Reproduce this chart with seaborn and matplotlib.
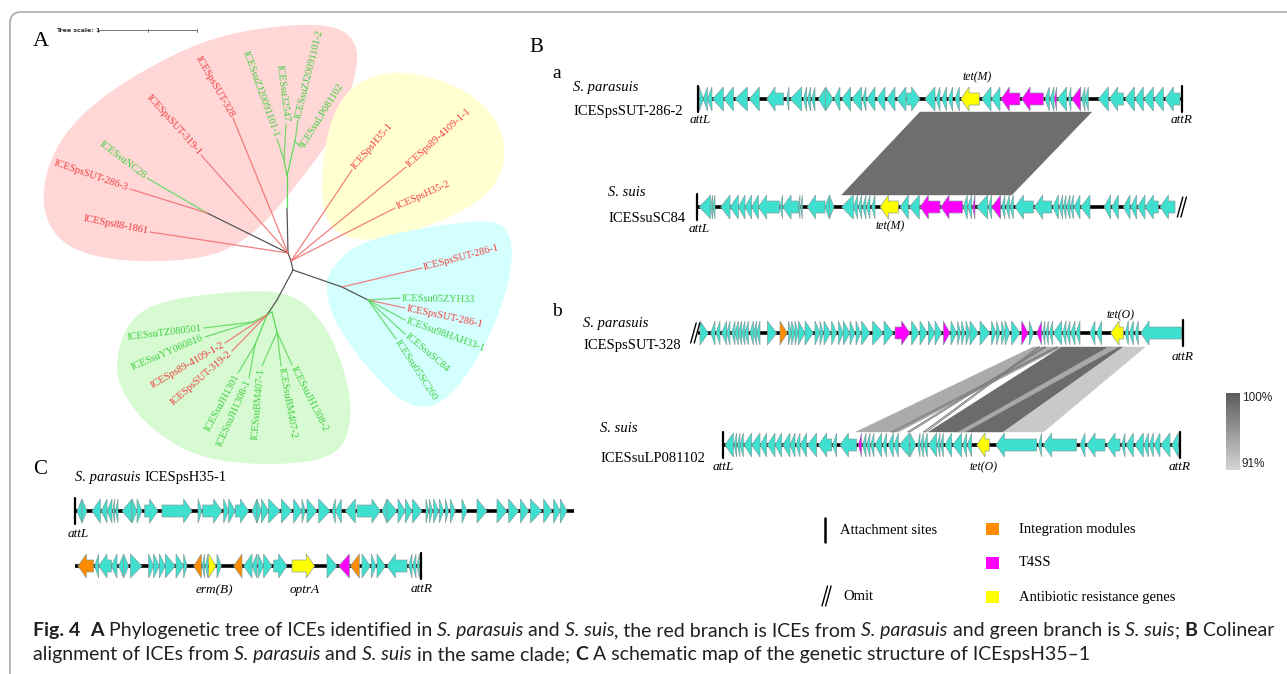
import numpy as np
import pandas as pd
import matplotlib
matplotlib.use("Agg")
import matplotlib.pyplot as plt
import seaborn as sns
from matplotlib.patches import Polygon, FancyBboxPatch, Rectangle
from matplotlib.colors import LinearSegmentedColormap
from matplotlib import font_manager

# ---------------------------------------------------------------- data
# Gene maps: (start, end, strand, kind); positions in map units (1 unit = 1/3 px of map)
GENE_COLORS = {"c": "#40E0D0", "m": "#FF00FF", "y": "#FFFF00", "o": "#FF8C00"}

ICESpsSUT_286_2 = [
    (28, 40, 1, "c"), (40, 52, -1, "c"), (52, 66, -1, "c"), (68, 100, -1, "c"), (102, 130, -1, "c"),
    (135, 172, -1, "c"), (178, 208, -1, "c"), (230, 280, -1, "c"), (290, 297, -1, "c"), (300, 335, -1, "c"),
    (340, 350, -1, "c"), (352, 362, -1, "c"), (365, 375, -1, "c"), (385, 407, -1, "c"), (407, 430, 1, "c"),
    (432, 450, -1, "c"), (455, 482, -1, "c"), (485, 515, -1, "c"), (518, 528, -1, "c"), (530, 555, -1, "c"),
    (560, 585, -1, "c"), (590, 615, -1, "c"), (620, 648, -1, "c"), (650, 690, 1, "c"), (705, 735, -1, "c"),
    (738, 750, -1, "c"), (755, 770, -1, "c"), (775, 788, -1, "c"), (795, 808, -1, "c"), (812, 868, -1, "y"),
    (875, 903, -1, "c"), (905, 930, -1, "c"), (933, 990, -1, "m"), (995, 1060, -1, "m"), (1065, 1078, -1, "c"),
    (1080, 1092, -1, "c"), (1093, 1100, -1, "m"), (1102, 1130, -1, "c"), (1135, 1143, -1, "c"),
    (1145, 1172, -1, "m"), (1175, 1185, -1, "c"), (1185, 1195, -1, "c"), (1225, 1255, -1, "c"),
    (1258, 1300, -1, "c"), (1305, 1333, -1, "c"), (1335, 1360, -1, "c"), (1362, 1390, -1, "c"),
    (1392, 1420, -1, "c"), (1425, 1470, -1, "c")]

ICESsuSC84 = [
    (28, 62, -1, "c"), (62, 68, -1, "c"), (68, 75, -1, "c"), (92, 120, -1, "c"), (120, 145, -1, "c"),
    (145, 165, -1, "c"), (165, 185, -1, "c"), (185, 205, -1, "c"), (205, 268, -1, "c"), (270, 278, -1, "c"),
    (278, 325, -1, "c"), (325, 330, -1, "c"), (332, 337, -1, "c"), (352, 405, -1, "c"), (405, 418, -1, "c"),
    (418, 432, 1, "c"), (455, 490, -1, "c"), (490, 503, -1, "c"), (505, 515, -1, "c"), (518, 528, -1, "c"),
    (530, 540, -1, "c"), (545, 555, -1, "c"), (570, 625, -1, "y"), (630, 655, -1, "c"), (658, 688, -1, "c"),
    (690, 750, -1, "m"), (752, 818, -1, "m"), (820, 832, -1, "c"), (833, 845, -1, "c"), (848, 855, -1, "m"),
    (860, 893, -1, "c"), (895, 905, -1, "c"), (905, 932, -1, "m"), (935, 945, -1, "c"), (948, 958, -1, "c"),
    (960, 970, -1, "c"), (975, 1030, -1, "c"), (1033, 1085, -1, "c"), (1088, 1105, -1, "c"),
    (1108, 1118, -1, "c"), (1120, 1128, -1, "c"), (1130, 1140, -1, "c"), (1142, 1150, -1, "c"),
    (1152, 1170, -1, "c"), (1172, 1200, -1, "c"), (1242, 1262, -1, "c"), (1265, 1285, -1, "c"),
    (1300, 1320, -1, "c"), (1322, 1340, -1, "c"), (1342, 1365, -1, "c"), (1365, 1405, -1, "c"),
    (1410, 1455, -1, "c")]

ICESpsSUT_328 = [
    (30, 55, 1, "c"), (62, 75, -1, "c"), (78, 90, -1, "c"), (95, 110, -1, "c"), (110, 120, -1, "c"),
    (125, 135, -1, "c"), (135, 145, -1, "c"), (145, 155, -1, "c"), (155, 165, -1, "c"), (165, 175, -1, "c"),
    (180, 190, -1, "c"), (190, 200, -1, "c"), (200, 210, -1, "c"), (232, 260, 1, "c"), (270, 292, 1, "o"),
    (295, 305, 1, "c"), (305, 315, 1, "c"), (315, 325, 1, "c"), (325, 345, 1, "c"), (345, 370, 1, "c"),
    (375, 390, 1, "c"), (390, 400, 1, "c"), (402, 422, 1, "c"), (425, 440, 1, "c"), (445, 460, 1, "c"),
    (460, 480, 1, "c"), (480, 495, 1, "c"), (498, 512, 1, "c"), (515, 540, 1, "c"), (548, 580, 1, "c"),
    (582, 610, 1, "c"), (615, 660, 1, "m"), (665, 688, 1, "c"), (690, 712, 1, "c"), (715, 735, 1, "c"),
    (735, 755, 1, "c"), (760, 780, 1, "m"), (783, 800, 1, "c"), (803, 812, 1, "c"), (815, 825, 1, "c"),
    (828, 840, 1, "c"), (840, 865, 1, "c"), (870, 900, 1, "c"), (905, 918, 1, "c"), (920, 930, 1, "c"),
    (935, 945, 1, "c"), (945, 960, 1, "c"), (965, 990, 1, "c"), (995, 1015, 1, "m"), (1018, 1030, 1, "c"),
    (1040, 1055, -1, "m"), (1058, 1065, -1, "c"), (1068, 1075, -1, "c"), (1078, 1088, -1, "c"),
    (1090, 1115, -1, "c"), (1118, 1128, -1, "c"), (1130, 1140, -1, "c"), (1142, 1155, -1, "c"),
    (1158, 1170, -1, "c"), (1200, 1215, -1, "c"), (1220, 1235, -1, "c"), (1262, 1300, -1, "y"),
    (1305, 1315, -1, "c"), (1318, 1330, -1, "c"), (1335, 1345, -1, "c"), (1352, 1475, -1, "c")]

ICESsuLP081102 = [
    (105, 130, -1, "c"), (132, 140, -1, "c"), (142, 150, -1, "c"), (150, 160, -1, "c"), (162, 185, -1, "c"),
    (185, 210, -1, "c"), (210, 230, -1, "c"), (232, 255, -1, "c"), (255, 275, -1, "c"), (278, 300, -1, "c"),
    (300, 315, -1, "c"), (318, 330, -1, "c"), (330, 350, -1, "c"), (352, 380, -1, "c"), (385, 425, -1, "c"),
    (428, 440, -1, "c"), (450, 500, -1, "c"), (505, 515, -1, "m"), (518, 528, -1, "c"), (530, 540, -1, "c"),
    (542, 552, -1, "c"), (555, 575, -1, "c"), (578, 590, -1, "c"), (595, 610, -1, "c"), (612, 625, -1, "c"),
    (628, 658, -1, "c"), (660, 678, 1, "c"), (683, 690, -1, "c"), (692, 700, -1, "c"), (702, 712, -1, "c"),
    (715, 740, -1, "c"), (742, 750, -1, "c"), (752, 760, -1, "c"), (765, 785, -1, "c"), (788, 815, -1, "c"),
    (818, 830, -1, "c"), (832, 845, -1, "c"), (860, 898, -1, "y"), (918, 1040, -1, "c"), (1045, 1055, -1, "c"),
    (1060, 1160, -1, "c"), (1170, 1185, -1, "c"), (1190, 1245, -1, "c"), (1250, 1290, -1, "c"),
    (1295, 1305, -1, "c"), (1308, 1330, -1, "c"), (1335, 1360, -1, "c"), (1362, 1375, -1, "c"),
    (1378, 1390, -1, "c"), (1392, 1410, -1, "c"), (1412, 1440, -1, "c"), (1445, 1465, -1, "c")]

ICESpsH35_1_part1 = [
    (15, 30, -1, "c"), (30, 45, 1, "c"), (60, 85, -1, "c"), (88, 105, -1, "c"), (105, 120, -1, "c"),
    (122, 128, -1, "c"), (130, 138, -1, "c"), (150, 180, -1, "c"), (180, 195, 1, "c"), (195, 210, 1, "c"),
    (218, 258, 1, "c"), (270, 360, 1, "c"), (378, 390, 1, "c"), (392, 450, 1, "c"), (455, 470, 1, "c"),
    (470, 490, 1, "c"), (490, 530, 1, "c"), (540, 555, -1, "c"), (555, 568, 1, "c"), (568, 590, 1, "c"),
    (590, 625, 1, "c"), (628, 660, 1, "c"), (665, 690, 1, "c"), (690, 700, 1, "c"), (705, 735, 1, "c"),
    (740, 775, 1, "c"), (780, 790, -1, "c"), (790, 808, -1, "c"), (820, 850, -1, "c"), (855, 925, 1, "c"),
    (930, 945, -1, "c"), (945, 975, 1, "c"), (978, 1000, 1, "c"), (1000, 1020, 1, "c"), (1022, 1050, 1, "c"),
    (1062, 1070, 1, "c"), (1072, 1082, 1, "c"), (1085, 1100, 1, "c"), (1102, 1115, 1, "c"),
    (1120, 1130, 1, "c"), (1135, 1150, 1, "c"), (1170, 1185, 1, "c"), (1215, 1245, 1, "c"),
    (1275, 1305, 1, "c"), (1310, 1340, 1, "c"), (1345, 1370, 1, "c"), (1375, 1410, 1, "c"),
    (1415, 1440, 1, "c"), (1445, 1465, 1, "c"), (1465, 1485, 1, "c")]

ICESpsH35_1_part2 = [
    (18, 65, -1, "o"), (68, 80, -1, "c"), (80, 118, -1, "c"), (118, 135, -1, "c"), (140, 155, -1, "c"),
    (155, 170, 1, "c"), (175, 210, 1, "c"), (230, 245, 1, "c"), (245, 262, 1, "c"), (262, 280, 1, "c"),
    (280, 310, 1, "c"), (312, 335, 1, "c"), (335, 345, 1, "c"), (365, 388, -1, "o"), (390, 398, -1, "c"),
    (400, 408, -1, "c"), (410, 432, 1, "y"), (435, 448, 1, "c"), (485, 510, -1, "o"), (515, 540, -1, "c"),
    (540, 555, -1, "c"), (558, 575, 1, "c"), (575, 600, 1, "c"), (605, 645, 1, "c"), (660, 728, 1, "y"),
    (765, 795, 1, "c"), (800, 832, -1, "m"), (835, 862, -1, "o"), (870, 895, 1, "c"), (898, 912, 1, "c"),
    (915, 940, 1, "c"), (945, 1005, -1, "c"), (1010, 1020, -1, "c"), (1022, 1032, -1, "c"),
    (1035, 1042, -1, "c")]

# Alignment links: (top start, top end), (bottom start, bottom end), identity shade
LINKS_A = [((690, 1205), (455, 965), "#6e6e6e")]
LINKS_B = [((1030, 1115), (497, 625), "#ababab"),
           ((1115, 1300), (715, 940), "#6b6b6b"),
           ((1255, 1285), (805, 825), "#a9a9a9"),
           ((1300, 1365), (940, 1060), "#c9c9c9"),
           ((1045, 1050), (700, 708), "#d8d8d8"),
           ((1062, 1067), (652, 660), "#d8d8d8"),
           ((1098, 1104), (604, 612), "#d8d8d8")]

# Tree: internal nodes (layout positions), edges and leaves
TREE_NODES = {"r": (288, 253), "y": (291, 261), "r2": (293, 270), "t1": (287, 208), "t2": (287, 176),
              "t3": (284, 160), "t4": (295, 141), "n1": (207, 213), "c1": (342, 287), "c2": (368, 300),
              "g0": (277, 300), "g1": (267, 315), "g2": (253, 322), "g3": (255, 345), "g4": (272, 312),
              "g5": (277, 332)}
TREE_EDGES = [("r", "y", "k"), ("y", "r2", "k"), ("r", "t1", "k"), ("t1", "t2", "su"), ("t2", "t3", "su"),
              ("t2", "t4", "su"), ("r", "n1", "k"), ("r2", "c1", "k"), ("c1", "c2", "k"), ("r2", "g0", "k"),
              ("g0", "g1", "k"), ("g1", "g2", "su"), ("g1", "g3", "su"), ("g1", "g4", "su"), ("g4", "g5", "su")]
LEAF_NAMES = ["ICESpsSUT-328", "ICESsuZJ20091101-1", "ICESsu32547", "ICESsuZJ20091101-2", "ICESsuLP081102",
              "ICESpsSUT-319-1", "ICESsuNC28", "ICESpsSUT-286-3", "ICESps88-1861", "ICESpsH35-1",
              "ICESps89-4109-1-1", "ICESpsH35-2", "ICESpsSUT-286-1", "ICESsu05ZYH33", "ICESpsSUT-286-1",
              "ICESsu98HAH33-1", "ICESsuSC84", "ICESsu05SC260", "ICESsuTZ080501", "ICESsuYY060816",
              "ICESps89-4109-1-2", "ICESpsSUT-319-2", "ICESsuJH1301", "ICESsuJH1308-1", "ICESsuBM407-1",
              "ICESsuBM407-2", "ICESsuJH1308-2"]
LEAF_PARENT = ["r", "t3", "t3", "t4", "t4", "r", "n1", "n1", "r", "y", "y", "y", "c1", "c2", "c2", "c2",
               "c2", "c2", "g2", "g2", "g1", "g1", "g3", "g3", "g5", "g5", "g5"]
LEAF_TIP = [(233, 118), (277, 139), (286, 124), (298, 120), (301, 148), (201, 155), (147, 178), (130, 189),
            (150, 232), (352, 170), (406, 167), (395, 208), (422, 268), (400, 298), (405, 308), (405, 320),
            (405, 334), (396, 339), (204, 328), (205, 337), (225, 343), (232, 351), (238, 373), (249, 378),
            (262, 366), (281, 366), (292, 365)]
LEAF_ANGLE = [-60, -70, -83, 76, 58, -48, -37, -19, -11, 49, 42, 24, 15, -1, -12, -20, -40, -57, 7, 23, 30,
              41, 62, 66, 85, -80, -63]
LEAF_SIDE = ["right", "right", "right", "left", "left", "right", "right", "right", "right", "left", "left",
             "left", "left", "left", "left", "left", "left", "left", "right", "right", "right", "right",
             "right", "right", "right", "left", "left"]

CLADE_BLOBS = {
    "#FFD7D7": [(40, 205), (52, 150), (90, 105), (150, 66), (215, 36), (290, 24), (340, 26), (360, 48),
                (352, 90), (334, 135), (302, 178), (272, 215), (242, 243), (200, 260), (115, 262), (60, 245)],
    "#FFFFD2": [(322, 152), (340, 95), (378, 72), (425, 74), (478, 96), (506, 135), (502, 180), (465, 212),
                (400, 236), (352, 242), (322, 220)],
    "#D4FFFF": [(328, 272), (356, 243), (420, 228), (482, 220), (508, 226), (514, 262), (496, 325),
                (464, 382), (432, 410), (400, 402), (364, 364), (334, 322), (326, 292)],
    "#D7FAD2": [(118, 345), (136, 312), (175, 298), (250, 290), (296, 294), (328, 328), (348, 380),
                (352, 425), (336, 458), (270, 466), (196, 458), (144, 424), (116, 382)],
}

LEGEND_LABELS = ["Integration modules", "T4SS", "Antibiotic resistance genes"]
LEGEND_KINDS = ["o", "m", "y"]

CAPTION_1 = [("Fig. 4", "normal", "bold"), ("  ", "normal", "normal"), ("A", "normal", "bold"),
             (" Phylogenetic tree of ICEs identified in ", "normal", "normal"), ("S. parasuis", "italic", "normal"),
             (" and ", "normal", "normal"), ("S. suis", "italic", "normal"),
             (", the red branch is ICEs from ", "normal", "normal"), ("S. parasuis", "italic", "normal"),
             (" and green branch is ", "normal", "normal"), ("S. suis", "italic", "normal"),
             ("; ", "normal", "normal"), ("B", "normal", "bold"), (" Colinear", "normal", "normal")]
CAPTION_2 = [("alignment of ICEs from ", "normal", "normal"), ("S. parasuis", "italic", "normal"),
             (" and ", "normal", "normal"), ("S. suis", "italic", "normal"),
             (" in the same clade; ", "normal", "normal"), ("C", "normal", "bold"),
             (" A schematic map of the genetic structure of ICEspsH35\u20131", "normal", "normal")]

# ---------------------------------------------------------------- figure
sns.set_theme(style="white")
plt.rcParams["font.family"] = ["Liberation Serif", "DejaVu Serif"]

W, H = 1287, 674
fig = plt.figure(figsize=(W / 100, H / 100), dpi=100)
ax = fig.add_axes([0, 0, 1, 1])
ax.set_xlim(0, W)
ax.set_ylim(H, 0)
ax.axis("off")

RED_T, GRN_T = "#f03c3c", "#3fcf3f"
RED_L, GRN_L, BLK_L = "#f06a6a", "#5cd85c", "#555555"

# frame
ax.add_patch(FancyBboxPatch((10, 12), 1320, 720, boxstyle="round,pad=0,rounding_size=11",
                            fc="none", ec="#9a9a9a", lw=1.0, zorder=1))


def chaikin(pts, n=5):
    P = np.array(pts, float)
    for _ in range(n):
        nxt = np.roll(P, -1, axis=0)
        Q = 0.75 * P + 0.25 * nxt
        R = 0.25 * P + 0.75 * nxt
        P = np.empty((2 * len(P), 2))
        P[0::2] = Q
        P[1::2] = R
    return P


for col, pts in CLADE_BLOBS.items():
    ax.add_patch(Polygon(chaikin(pts), closed=True, fc=col, ec="none", zorder=1))

# tree edges
edge_col = {"k": BLK_L, "su": GRN_L, "ps": RED_L}
for a, b, c in TREE_EDGES:
    (x1, y1), (x2, y2) = TREE_NODES[a], TREE_NODES[b]
    ax.plot([x1, x2], [y1, y2], color=edge_col[c], lw=0.9, zorder=3, solid_capstyle="round")

leaves = pd.DataFrame({"name": LEAF_NAMES, "parent": LEAF_PARENT, "tip": LEAF_TIP,
                       "angle": LEAF_ANGLE, "side": LEAF_SIDE})
for _, lf in leaves.iterrows():
    sp = "ps" if lf["name"].startswith("ICESps") else "su"
    px, py = TREE_NODES[lf["parent"]]
    tx, ty = lf["tip"]
    ax.plot([px, tx], [py, ty], color=edge_col[sp], lw=0.9, alpha=0.85, zorder=3)
    th = np.deg2rad(lf["angle"])
    u = np.array([np.cos(th), -np.sin(th)])
    d = 2.0 if lf["side"] == "left" else -2.0
    ax.text(tx + d * u[0], ty + d * u[1], lf["name"], rotation=lf["angle"], rotation_mode="anchor",
            ha=lf["side"], va="center", fontsize=7.5, color=RED_T if sp == "ps" else GRN_T, zorder=4)

# tree scale
ax.text(56, 30.5, "Tree scale: 1", fontsize=4.5, family="DejaVu Sans", color="#333333", va="center",
        fontweight="bold")
ax.plot([98, 197], [30, 30], color="#777777", lw=0.7)
for xt in (98, 147.5, 197):
    ax.plot([xt, xt], [28.5, 31.5], color="#777777", lw=0.7)


# ---------------------------------------------------------------- gene maps
def gene_poly(xs, xe, y, strand, Hf=24.0, hb=12.0):
    L = xe - xs
    head = L if L <= 12.4 else 8.4
    if strand > 0:
        b = xe - head
        return [(xs, y - hb / 2), (b, y - hb / 2), (b, y - Hf / 2), (xe, y), (b, y + Hf / 2),
                (b, y + hb / 2), (xs, y + hb / 2)]
    b = xs + head
    return [(xe, y - hb / 2), (b, y - hb / 2), (b, y - Hf / 2), (xs, y), (b, y + Hf / 2),
            (b, y + hb / 2), (xe, y + hb / 2)]


def draw_track(genes, x0, y, lstart, lend, scale=1 / 3.0):
    ax.plot([x0 + lstart * scale, x0 + lend * scale], [y, y], color="black", lw=2.6, zorder=2,
            solid_capstyle="butt")
    for s, e, st, k in genes:
        ax.add_patch(Polygon(gene_poly(x0 + s * scale, x0 + e * scale, y, st), closed=True,
                             fc=GENE_COLORS[k], ec="#7f9a98", lw=0.45, zorder=3))


def att(x, y):
    ax.plot([x, x], [y - 13, y + 13], color="black", lw=1.6, zorder=4)


def omit(x, y, h=10, c="black"):
    for i in (0, 3.6):
        ax.plot([x + i, x + i + 5.5], [y + h, y - h], color=c, lw=1.0, zorder=4)


def links(lst, x0, ytop, ybot, scale=1 / 3.0):
    for (a1, a2), (b1, b2), col in lst:
        pts = [(x0 + a1 * scale, ytop), (x0 + a2 * scale, ytop), (x0 + b2 * scale, ybot),
               (x0 + b1 * scale, ybot)]
        thin = (a2 - a1) < 15
        ax.add_patch(Polygon(pts, closed=True, fc=col, ec="#666666" if thin else col,
                             lw=0.5 if thin else 0.3, zorder=1.5))


BX = 690
yA1, yA2, yB1, yB2 = 99, 207, 333, 445
draw_track(ICESpsSUT_286_2, BX, yA1, 25, 1475)
att(BX + 25 / 3, yA1)
att(BX + 1475 / 3, yA1)
draw_track(ICESsuSC84, BX, yA2, 22, 1455)
att(BX + 22 / 3, yA2)
omit(BX + 1462 / 3, yA2)
links(LINKS_A, BX, yA1 + 13, yA2 - 12)

draw_track(ICESpsSUT_328, BX, yB1, 25, 1478)
omit(BX + 2 / 3, yB1)
att(BX + 1478 / 3, yB1)
draw_track(ICESsuLP081102, BX, yB2, 100, 1470)
att(BX + 100 / 3, yB2)
att(BX + 1470 / 3, yB2)
links(LINKS_B, BX, yB1 + 14, yB2 - 13)

CX = 72
yC1, yC2 = 511, 566
draw_track(ICESpsH35_1_part1, CX, yC1, 10, 1505)
att(CX + 10 / 3, yC1)
draw_track(ICESpsH35_1_part2, CX, yC2, 10, 1048)
att(CX + 1048 / 3, yC2)

# ---------------------------------------------------------------- texts
ser = dict(color="black", zorder=5)
ax.text(33, 41, "A", fontsize=16, va="center", **ser)
ax.text(529, 47, "B", fontsize=15, va="center", **ser)
ax.text(552, 74, "a", fontsize=14, va="center", **ser)
ax.text(552, 312, "b", fontsize=14, va="center", **ser)
ax.text(33, 470, "C", fontsize=15, va="center", **ser)

lab = 10.5
ax.text(573, 88, "S. parasuis", fontsize=lab, style="italic", va="center", **ser)
ax.text(573, 111, "ICESpsSUT-286-2", fontsize=lab, va="center", **ser)
ax.text(608, 193, "S. suis", fontsize=lab, style="italic", va="center", **ser)
ax.text(608, 219, "ICESsuSC84", fontsize=lab, va="center", **ser)
ax.text(583, 323, "S. parasuis", fontsize=lab, style="italic", va="center", **ser)
ax.text(583, 346, "ICESpsSUT-328", fontsize=lab, va="center", **ser)
ax.text(600, 428, "S. suis", fontsize=lab, style="italic", va="center", **ser)
ax.text(600, 458, "ICESsuLP081102", fontsize=lab, va="center", **ser)

t = ax.text(75, 477, "S. parasuis", fontsize=lab, style="italic", va="center", **ser)
fig.canvas.draw()
rend = fig.canvas.get_renderer()
wpar = t.get_window_extent(rend).width
ax.text(75 + wpar + 3.5, 477, "ICESpsH35-1", fontsize=lab, va="center", **ser)

sm = dict(fontsize=9.5, style="italic", ha="center", va="center", **ser)
ax.text(BX + 25 / 3 + 2, 120, "attL", **sm)
ax.text(BX + 1475 / 3, 120, "attR", **sm)
ax.text(BX + 22 / 3 + 2, 229, "attL", **sm)
ax.text(BX + 1478 / 3, 357, "attR", **sm)
ax.text(BX + 100 / 3, 467, "attL", **sm)
ax.text(BX + 1470 / 3, 467, "attR", **sm)
ax.text(CX + 10 / 3 + 3, 534, "attL", **sm)
ax.text(CX + 1048 / 3, 589, "attR", **sm)
ax.text(977, 77, "tet(M)", fontsize=8.5, style="italic", ha="center", va="center", **ser)
ax.text(890, 226, "tet(M)", fontsize=8.5, style="italic", ha="center", va="center", **ser)
ax.text(1120, 315, "tet(O)", fontsize=8.5, style="italic", ha="center", va="center", **ser)
ax.text(983, 467, "tet(O)", fontsize=8.5, style="italic", ha="center", va="center", **ser)
ax.text(214, 590, "erm(B)", **sm)
ax.text(305, 590, "optrA", **sm)

# legend
ax.plot([825, 825], [518, 542], color="black", lw=1.8)
ax.text(840, 531, "Attachment sites", fontsize=lab, va="center", **ser)
omit(822, 596, h=10)
ax.text(843, 596, "Omit", fontsize=lab, va="center", **ser)
for i, (lbl, k) in enumerate(zip(LEGEND_LABELS, LEGEND_KINDS)):
    yc = 529 + i * 34
    ax.add_patch(Rectangle((986, yc - 6), 13, 12, fc=GENE_COLORS[k], ec="none"))
    ax.text(1019, yc, lbl, fontsize=lab, va="center", **ser)

# identity scale via seaborn heatmap
cax = fig.add_axes([1226 / W, 1 - 470 / H, 14 / W, 77 / H])
grad = pd.DataFrame(np.linspace(100, 91, 80).reshape(-1, 1))
sns.heatmap(grad, ax=cax, cmap=LinearSegmentedColormap.from_list("id", ["#d4d4d4", "#5c5c5c"]),
            vmin=91, vmax=100, cbar=False, xticklabels=False, yticklabels=False)
cax.set_xlabel("")
cax.set_ylabel("")
ax.text(1242, 398, "100%", fontsize=8.5, family="Liberation Sans", va="center", color="#222222")
ax.text(1242, 464, "91%", fontsize=8.5, family="Liberation Sans", va="center", color="#222222")

# caption (rich text); prefer a narrow sans if installed
_avail = {f.name for f in font_manager.fontManager.ttflist}
CAP_FONT = [f for f in ["Liberation Sans Narrow", "Lato", "DejaVu Sans"] if f in _avail] or ["DejaVu Sans"]


def seg_w(s, size, style, weight):
    t1 = ax.text(0, 0, s + "|", fontsize=size, style=style, fontweight=weight, family=CAP_FONT)
    t2 = ax.text(0, 0, "|", fontsize=size, style=style, fontweight=weight, family=CAP_FONT)
    w = t1.get_window_extent(rend).width - t2.get_window_extent(rend).width
    t1.remove()
    t2.remove()
    return w


base = 12.0
tot = sum(seg_w(s, base, st, wt) for s, st, wt in CAPTION_1)
size = base * (1268 - 33) / tot


def rich(x, y, segs):
    for s, st, wt in segs:
        ax.text(x, y, s, fontsize=size, style=st, fontweight=wt, family=CAP_FONT, va="baseline",
                color="#231f20")
        x += seg_w(s, size, st, wt)


rich(33, 636, CAPTION_1)
rich(33, 660, CAPTION_2)

fig.savefig("out.png", dpi=100)
